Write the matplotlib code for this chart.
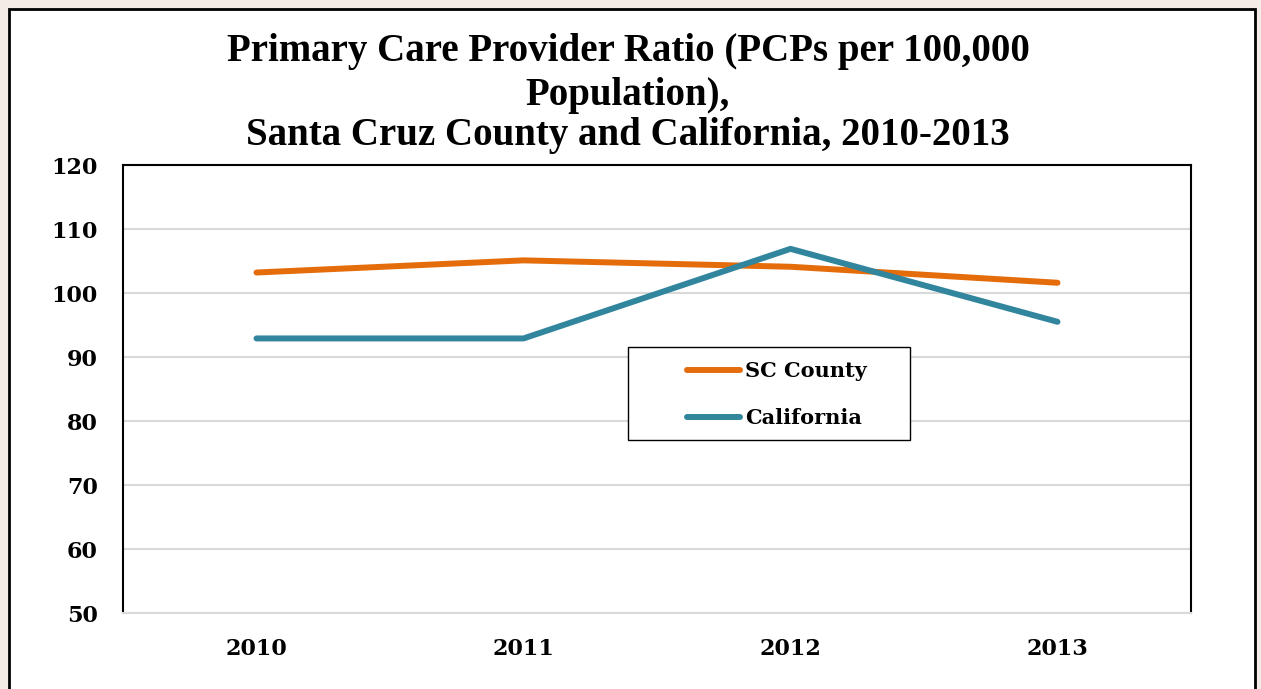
import matplotlib
matplotlib.use("Agg")
import matplotlib.pyplot as plt
from matplotlib.patches import Rectangle

years = ["2010", "2011", "2012", "2013"]
sc_county = [103.2, 105.1, 104.1, 101.6]
california = [92.9, 92.9, 106.9, 95.5]
series_names = ["SC County", "California"]

W, H = 1261, 689
fig = plt.figure(figsize=(W / 100, H / 100), dpi=100)
fig.patch.set_facecolor("#F3ECE6")

def fx(px):
    return px / W

def fy(py):
    return 1 - py / H

# white chart panel with black border
fig.patches.append(Rectangle((fx(9), fy(700)), fx(1255) - fx(9), fy(9) - fy(700),
                             transform=fig.transFigure, facecolor="white",
                             edgecolor="black", linewidth=2.0, zorder=-5))

ax = fig.add_axes([fx(123), fy(613), fx(1191) - fx(123), fy(165) - fy(613)])
ax.set_zorder(2)
ax.set_facecolor("white")
x = [i + 0.5 for i in range(len(years))]
ax.plot(x, sc_county, color="#E46C0A", linewidth=4.3, solid_capstyle="round",
        label=series_names[0], zorder=3)
ax.plot(x, california, color="#31859C", linewidth=4.3, solid_capstyle="round",
        label=series_names[1], zorder=3)

ax.set_xlim(0, len(years))
ax.set_ylim(50, 120)
ax.set_yticks(range(50, 121, 10))
ax.set_xticks(x)
ax.set_xticklabels(years)
ax.yaxis.grid(True, color="#D9D9D9", linewidth=1.5)
ax.set_axisbelow(True)
ax.tick_params(length=0)
for lab in ax.get_xticklabels() + ax.get_yticklabels():
    lab.set_fontfamily("DejaVu Serif")
    lab.set_fontweight("bold")
    lab.set_fontsize(16)
ax.tick_params(axis="y", pad=18)
ax.tick_params(axis="x", pad=18)
for s in ["left", "top", "right"]:
    ax.spines[s].set_color("black")
    ax.spines[s].set_linewidth(1.5)
ax.spines["bottom"].set_color("#D9D9D9")
ax.spines["bottom"].set_linewidth(1.5)

# title
title_kw = dict(ha="center", va="center", fontsize=28, fontweight="bold",
                family="Liberation Serif")
fig.text(fx(628), fy(51), "Primary Care Provider Ratio (PCPs per 100,000", **title_kw)
fig.text(fx(628), fy(95), "Population),", **title_kw)
fig.text(fx(628), fy(136), "Santa Cruz County and California, 2010-2013", **title_kw)

# legend box
ax.add_patch(Rectangle((fx(628), fy(440)), fx(910) - fx(628), fy(347) - fy(440),
                       transform=fig.transFigure, facecolor="white",
                       edgecolor="black", linewidth=1.0, zorder=4, clip_on=False))
leg = ax.legend(loc="upper left", bbox_to_anchor=(fx(677), fy(351)),
                bbox_transform=fig.transFigure, frameon=False, borderpad=0,
                handlelength=2.5, handletextpad=0.25, labelspacing=1.3,
                prop={"family": "DejaVu Serif", "weight": "bold", "size": 15})
leg.set_zorder(5)

fig.savefig("out.png", dpi=100, facecolor=fig.get_facecolor())
